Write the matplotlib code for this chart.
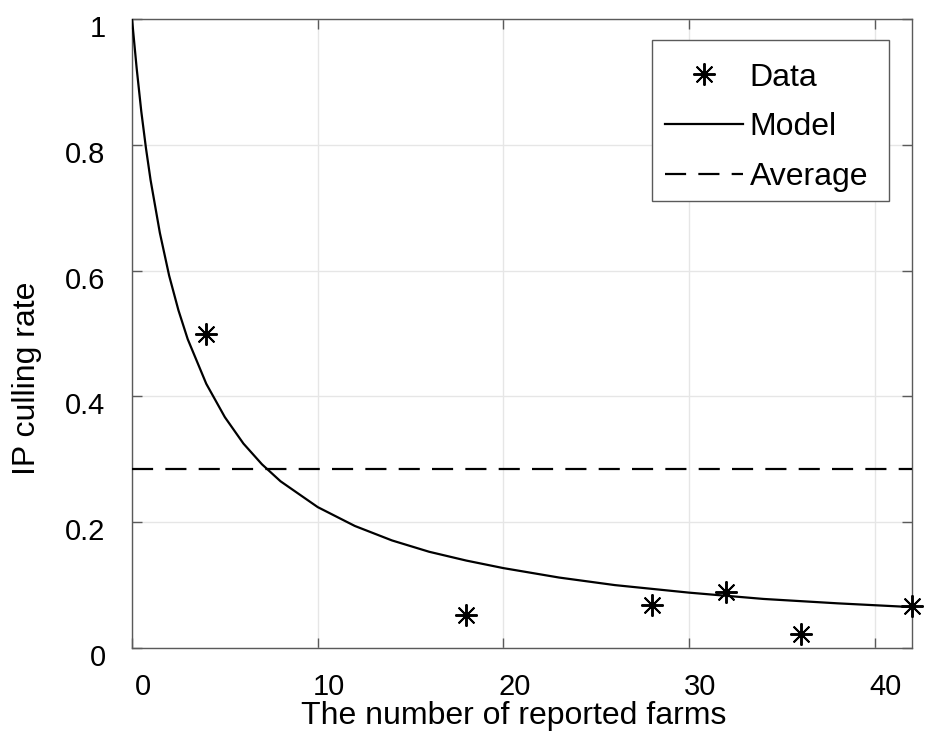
import numpy as np
import matplotlib
matplotlib.use("Agg")
import matplotlib.pyplot as plt
import matplotlib.transforms as mtrans
from matplotlib.patches import Rectangle

plt.rcParams['font.family'] = ['Liberation Sans', 'DejaVu Sans']

# observed points
data_x = [4, 18, 28, 32, 36, 42]
data_y = [0.50, 0.052, 0.068, 0.089, 0.023, 0.066]

# model curve
model_x = [0, 0.25, 0.5, 0.75, 1, 1.5, 2, 2.5, 3, 4, 5, 6, 7, 8, 10, 12, 14,
           16, 18, 20, 23, 26, 30, 34, 38, 42]
model_y = [1.0, 0.922, 0.853, 0.795, 0.744, 0.660, 0.592, 0.537, 0.491,
           0.420, 0.367, 0.325, 0.292, 0.265, 0.224, 0.194, 0.171, 0.153,
           0.139, 0.127, 0.112, 0.100, 0.088, 0.078, 0.071, 0.065]

average = 0.284

xticks = [0, 10, 20, 30, 40]
yticks = [0, 0.2, 0.4, 0.6, 0.8, 1]
ytick_labels = ['0', '0.2', '0.4', '0.6', '0.8', '1']

fig = plt.figure(figsize=(9.32, 7.41), dpi=100)
ax = fig.add_axes([132 / 932, 93 / 741, 780 / 932, 629 / 741])

ax.plot(data_x, data_y, linestyle='none', marker=(8, 2, 0), markersize=16,
        markeredgewidth=1.4, color='black', label='Data', clip_on=False,
        zorder=4)
ax.plot(model_x, model_y, color='black', linewidth=1.6, label='Model',
        zorder=3)
ax.axhline(average, color='black', linewidth=1.6, dashes=(9.5, 5.5),
           label='Average', zorder=3)

ax.set_xlim(0, 42)
ax.set_ylim(0, 1)
ax.set_xticks(xticks)
ax.set_yticks(yticks)
ax.set_yticklabels(ytick_labels)

ax.grid(True, color='#e6e6e6', linewidth=1)
ax.set_axisbelow(True)
for s in ax.spines.values():
    s.set_color('#5a5a5a')
    s.set_linewidth(1)
ax.tick_params(direction='in', length=7, width=1, color='#5a5a5a',
               top=True, right=True, labelsize=21)
ax.tick_params(axis='x', pad=18)
ax.tick_params(axis='y', pad=19)

# labels in the reference sit a bit right / below their ticks
dx = mtrans.ScaledTranslation(11 / 100, 0, fig.dpi_scale_trans)
dy = mtrans.ScaledTranslation(0, -7 / 100, fig.dpi_scale_trans)
for lab in ax.get_xticklabels():
    lab.set_transform(lab.get_transform() + dx)
for lab in ax.get_yticklabels():
    lab.set_transform(lab.get_transform() + dy)

ax.set_xlabel('The number of reported farms', fontsize=23)
ax.xaxis.set_label_coords(0.4897, -0.084)
ax.set_ylabel('IP culling rate', fontsize=23)
ax.yaxis.set_label_coords(-0.1154, 0.429)

# legend box
ax.add_patch(Rectangle((0.667, 0.7107), 0.3035, 0.2559, transform=ax.transAxes,
                       facecolor='white', edgecolor='#5a5a5a', linewidth=1,
                       zorder=5))
leg = ax.legend(loc='upper left', bbox_to_anchor=(0.6705, 0.946),
                fontsize=23, handlelength=2.45, handletextpad=0.22,
                borderpad=0.3, labelspacing=0.62, frameon=False,
                borderaxespad=0)
leg.set_zorder(6)

fig.savefig('out.png', dpi=100)
